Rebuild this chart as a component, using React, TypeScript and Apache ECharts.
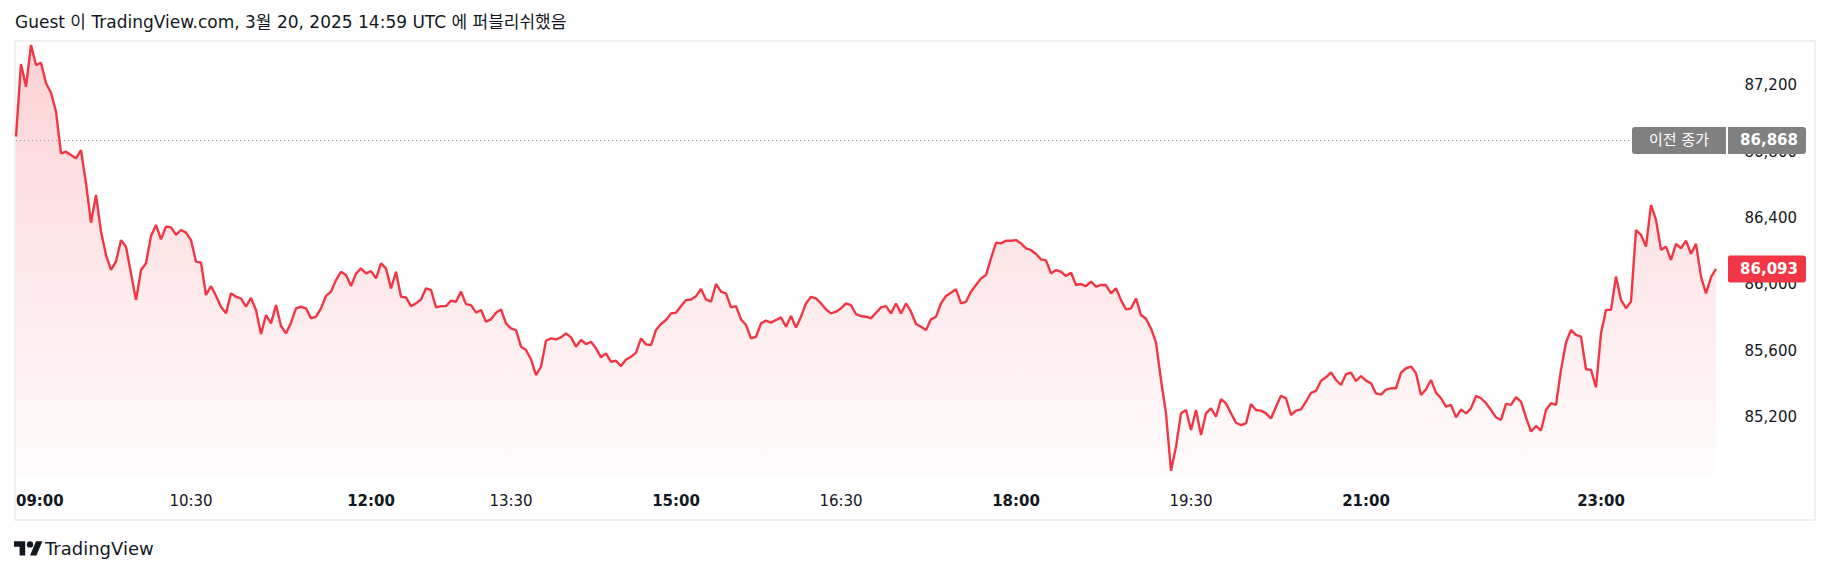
import React, { useEffect, useRef } from "react";
import * as echarts from "echarts";

// ---- Data (one value every ~5 px of the price line) ----
// 09:00 – ~12:00
const pricesA = [
  86891, 87329, 87192, 87444, 87323, 87337, 87213, 87156, 87042, 86790,
  86800, 86780, 86760, 86810, 86609, 86372, 86539, 86318, 86177, 86087,
  86137, 86267, 86227, 86066, 85905, 86087, 86127, 86292, 86358, 86271,
  86348, 86344, 86298, 86328, 86312, 86267, 86137, 86131, 85936, 85990,
  85930, 85865, 85825, 85946, 85926, 85914, 85865, 85918, 85845, 85700,
  85815, 85765, 85875, 85749, 85704, 85769, 85855, 85865, 85855, 85795,
  85805, 85855, 85930, 85956, 86026, 86076, 86056, 85990, 86065,
];
// ~12:00 – ~15:00
const pricesB = [
  86096, 86066, 86080, 86036, 86127, 86096, 85976, 86076, 85925, 85921,
  85869, 85885, 85909, 85976, 85966, 85861, 85869, 85869, 85901, 85895,
  85956, 85881, 85875, 85829, 85845, 85775, 85789, 85829, 85849, 85765,
  85734, 85724, 85624, 85604, 85547, 85453, 85503, 85660, 85674, 85668,
  85680, 85704, 85680, 85624, 85664, 85640, 85654, 85614, 85560, 85584,
  85533, 85539, 85507, 85547, 85563, 85588, 85674, 85638, 85634, 85724,
  85761, 85785, 85825, 85829, 85869, 85905, 85909, 85929, 85972,
];
// ~15:00 – ~18:00
const pricesC = [
  85909, 85895, 86002, 85956, 85946, 85861, 85869, 85789, 85755, 85674,
  85684, 85765, 85781, 85769, 85785, 85801, 85744, 85809, 85740, 85805,
  85885, 85925, 85915, 85885, 85849, 85825, 85835, 85855, 85885, 85875,
  85821, 85809, 85805, 85795, 85829, 85861, 85869, 85825, 85885, 85825,
  85885, 85835, 85761, 85744, 85724, 85789, 85805, 85885, 85930, 85950,
  85970, 85885, 85895, 85956, 85996, 86036, 86056, 86157, 86251, 86247,
  86263, 86263, 86267, 86247, 86217, 86207, 86183, 86151, 86145,
];
// ~18:00 – ~21:00
const pricesD = [
  86066, 86086, 86076, 86050, 86070, 85996, 86002, 85990, 86016, 85986,
  85996, 85996, 85946, 85976, 85905, 85849, 85855, 85915, 85815, 85793,
  85734, 85648, 85423, 85222, 84875, 85021, 85222, 85242, 85121, 85242,
  85091, 85222, 85252, 85202, 85308, 85282, 85222, 85165, 85151, 85161,
  85278, 85242, 85238, 85222, 85191, 85262, 85328, 85312, 85212, 85238,
  85246, 85292, 85346, 85358, 85419, 85439, 85469, 85423, 85393, 85459,
  85467, 85417, 85447, 85419, 85403, 85342, 85335, 85365,
];
// ~21:00 – close
const pricesE = [
  85373, 85373, 85468, 85494, 85504, 85464, 85333, 85367, 85423, 85347,
  85313, 85262, 85273, 85198, 85246, 85222, 85252, 85327, 85313, 85283,
  85242, 85198, 85182, 85279, 85273, 85319, 85293, 85198, 85112, 85146,
  85118, 85242, 85283, 85273, 85484, 85649, 85725, 85695, 85685, 85488,
  85484, 85379, 85705, 85846, 85846, 86047, 85906, 85856, 85896, 86328,
  86298, 86228, 86479, 86389, 86208, 86228, 86147, 86244, 86218, 86264,
  86184, 86244, 86047, 85946, 86043, 86093,
];

// time-axis tick labels and the sample at which each falls
const tickLabels = ["09:00", "10:30", "12:00", "13:30", "15:00", "16:30", "18:00", "19:30", "21:00", "23:00"];
const tickIndex = [0, 35, 71, 99, 132, 165, 200, 235, 270, 317];
const minutesPerSampleAfterLastTick = 2.5;

const priceTicks = [85200, 85600, 86000, 86400, 86800, 87200];
const prevClose = 86868;
const prevCloseLabel = "이전 종가";
const titleText = "Guest 이 TradingView.com, 3월 20, 2025 14:59 UTC 에 퍼블리쉬했음";
const brandText = "TradingView";

const prices = [...pricesA, ...pricesB, ...pricesC, ...pricesD, ...pricesE];
const lastPrice = prices[prices.length - 1];

const FONT = "'DejaVu Sans', 'Noto Sans CJK KR', sans-serif";
const INK = "#131722";
const RED = "#f23645";

const LOGO_D =
  "M14 22H7V11H0V4h14v18zM28 22h-8l7.5-18h8L28 22zM24 8a4 4 0 1 1-8 0a4 4 0 1 1 8 0z";
echarts.graphic.registerShape("tvlogo", echarts.graphic.extendPath(LOGO_D, {}));

function toHHMM(m: number): string {
  const h = Math.floor(m / 60) % 24;
  const mm = Math.floor(m % 60);
  return String(h).padStart(2, "0") + ":" + String(mm).padStart(2, "0");
}

function buildTimes(n: number): string[] {
  const mins = tickLabels.map((t) => parseInt(t.slice(0, 2), 10) * 60 + parseInt(t.slice(3), 10));
  const out: string[] = [];
  for (let i = 0; i < n; i++) {
    let k = 0;
    while (k < tickIndex.length - 1 && i >= tickIndex[k + 1]) k++;
    let m: number;
    if (k < tickIndex.length - 1) {
      m = mins[k] + ((i - tickIndex[k]) * (mins[k + 1] - mins[k])) / (tickIndex[k + 1] - tickIndex[k]);
    } else {
      m = mins[k] + (i - tickIndex[k]) * minutesPerSampleAfterLastTick;
    }
    out.push(i === tickIndex[k] ? tickLabels[k] : toHHMM(m));
  }
  return out;
}

const times = buildTimes(prices.length);
const fmt = (v: number) => v.toLocaleString("en-US");

export default function App() {
  const ref = useRef<HTMLDivElement>(null);

  useEffect(() => {
    if (!ref.current) return;
    const chart = echarts.init(ref.current, undefined, { renderer: "svg" });

    const staticGraphics: any[] = [
      {
        id: "frame",
        type: "rect",
        shape: { x: 15, y: 41, width: 1800, height: 479 },
        style: { fill: "none", stroke: "#ececec", lineWidth: 1.5 },
        z: -10,
        silent: true,
      },
      {
        id: "title",
        type: "text",
        x: 15,
        y: 22,
        style: {
          text: titleText,
          fill: INK,
          font: `17px ${FONT}`,
          verticalAlign: "middle",
        },
      },
      {
        id: "logo",
        type: "tvlogo",
        x: 14,
        y: 538,
        scaleX: 0.8,
        scaleY: 0.8,
        style: { fill: INK },
      },
      {
        id: "brand",
        type: "text",
        x: 45,
        y: 548,
        style: {
          text: brandText,
          fill: INK,
          font: `18px ${FONT}`,
          verticalAlign: "middle",
        },
      },
    ];

    const option: any = {
      animation: false,
      backgroundColor: "#ffffff",
      grid: { left: 16, right: 114, top: 41, bottom: 98, containLabel: false },
      xAxis: {
        type: "category",
        data: times,
        boundaryGap: false,
        axisLine: { show: false },
        axisTick: { show: false },
        splitLine: { show: false },
        axisLabel: {
          interval: (idx: number) => tickIndex.includes(idx),
          margin: 17,
          alignMinLabel: "left",
          fontFamily: FONT,
          fontSize: 15,
          color: INK,
          formatter: (v: string) => (v.endsWith(":00") ? `{b|${v}}` : `{n|${v}}`),
          rich: {
            b: { fontWeight: "bold", fontSize: 15, fontFamily: FONT, color: INK },
            n: { fontWeight: "normal", fontSize: 15, fontFamily: FONT, color: INK },
          },
        },
      },
      yAxis: {
        type: "value",
        position: "right",
        min: 84844,
        max: 87468,
        axisLine: { show: false },
        axisTick: { show: false },
        splitLine: { show: false },
        axisLabel: {
          customValues: priceTicks,
          formatter: (v: number) => fmt(v),
          align: "right",
          margin: 81,
          fontFamily: FONT,
          fontSize: 15,
          color: INK,
        },
      },
      series: [
        {
          type: "line",
          data: prices,
          symbol: "none",
          showSymbol: false,
          lineStyle: { color: RED, width: 2.4 },
          areaStyle: {
            color: new echarts.graphic.LinearGradient(0, 0, 0, 1, [
              { offset: 0, color: "rgba(242,54,69,0.32)" },
              { offset: 1, color: "rgba(242,54,69,0.02)" },
            ]),
          },
          markLine: {
            symbol: "none",
            silent: true,
            animation: false,
            label: { show: false },
            lineStyle: { type: [1, 3], color: "#8a8d96", width: 1 },
            data: [{ yAxis: prevClose }],
          },
        },
      ],
      graphic: staticGraphics,
    };

    chart.setOption(option);

    const yPrev = chart.convertToPixel({ yAxisIndex: 0 }, prevClose) as number;
    const yLast = chart.convertToPixel({ yAxisIndex: 0 }, lastPrice) as number;
    const h = 27;

    const boxes: any[] = [
      {
        id: "prevLabelBox",
        type: "rect",
        shape: { x: 1632, y: yPrev - h / 2, width: 94, height: h, r: [3, 0, 0, 3] },
        style: { fill: "#808080" },
        z: 50,
      },
      {
        id: "prevLabelText",
        type: "text",
        x: 1679,
        y: yPrev,
        style: {
          text: prevCloseLabel,
          fill: "#ffffff",
          font: `15px ${FONT}`,
          align: "center",
          verticalAlign: "middle",
        },
        z: 51,
      },
      {
        id: "prevValBox",
        type: "rect",
        shape: { x: 1728, y: yPrev - h / 2, width: 78, height: h, r: [0, 3, 3, 0] },
        style: { fill: "#808080" },
        z: 50,
      },
      {
        id: "prevValText",
        type: "text",
        x: 1769,
        y: yPrev,
        style: {
          text: fmt(prevClose),
          fill: "#ffffff",
          font: `bold 15px ${FONT}`,
          align: "center",
          verticalAlign: "middle",
        },
        z: 51,
      },
      {
        id: "lastValBox",
        type: "rect",
        shape: { x: 1728, y: yLast - h / 2, width: 78, height: h, r: [2, 3, 3, 2] },
        style: { fill: RED },
        z: 50,
      },
      {
        id: "lastValText",
        type: "text",
        x: 1769,
        y: yLast,
        style: {
          text: fmt(lastPrice),
          fill: "#ffffff",
          font: `bold 15px ${FONT}`,
          align: "center",
          verticalAlign: "middle",
        },
        z: 51,
      },
    ];

    chart.setOption({ graphic: [...staticGraphics, ...boxes] });

    return () => {
      chart.dispose();
    };
  }, []);

  return (
    <div
      ref={ref}
      style={{ position: "absolute", left: 0, top: 0, width: 1830, height: 574, background: "#ffffff" }}
    />
  );
}
